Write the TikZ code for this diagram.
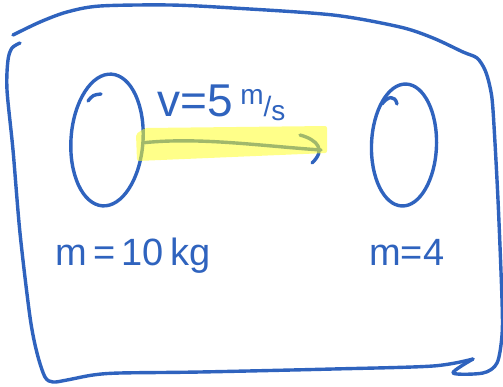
\documentclass[tikz,border=0pt]{standalone}
\usepackage{fontspec}
\setmainfont{Liberation Sans}
\usetikzlibrary{shapes.geometric}
\definecolor{ink}{RGB}{47,99,190}
\definecolor{hl}{RGB}{255,255,40}
\tikzset{
  pen/.style={draw=ink, line width=3.4pt, line cap=round, line join=round},
  ball/.style={ellipse, pen, inner sep=0pt},
  hand/.style={text=ink, font=\fontsize{38}{40}\selectfont, anchor=base west, inner sep=0pt},
}
\begin{document}
\begin{tikzpicture}[x=1pt,y=-1pt]
\useasboundingbox (0,0) rectangle (503,386);
% frame: top + right stroke
\draw[pen] plot[smooth, tension=0.5] coordinates {
 (13,35) (40,22) (67,12) (100,6) (170,5) (233,8) (333,15) (400,27) (433,38)
 (463,52) (477,58) (485,70) (490,87) (493,110) (498,200) (502,300) (502,335)
 (497,363) (483,373) (453,373) (473,359)};
% frame: left + bottom stroke
\draw[pen] plot[smooth, tension=0.5] coordinates {
 (20,43) (12,48) (8,60) (7,90) (13,150) (20,233) (30,317) (37,353) (45,377)
 (53,382) (67,380) (93,375) (120,373) (200,372) (333,369) (433,366) (473,359)};
% balls
\node[ball, minimum width=72pt, minimum height=132pt, rotate=-4] (a) at (107,140) {};
\node[ball, minimum width=65pt, minimum height=122pt, rotate=-2] (b) at (404,145) {};
\draw[pen] (88,101) .. controls (93,95) .. (101,94);
\draw[pen] (382,104) .. controls (388,96) and (395,95) .. (397,104);
% arrow
\coordinate (e) at (321,150);
\draw[pen] (a.east) .. controls (200,137) and (262,146) .. (e);
\draw[pen] (300,135) .. controls (318,140) and (326,150) .. (312,163);
% highlight
\fill[hl, opacity=0.55, rounded corners=2pt]
 (136,134) -- (145,128) -- (327,126) -- (327,153) -- (137,161) -- cycle;
% labels
\node[hand, font=\fontsize{46}{48}\selectfont] (v) at (157,116) {v=5\,{\fontsize{28}{28}\selectfont\raisebox{0.4em}{m}/\raisebox{-0.15em}{s}}};
\node[hand] (m1) at (55,265) {m\,=\,10\,kg};
\node[hand] (m2) at (369,265) {m=4};
\end{tikzpicture}
\end{document}
